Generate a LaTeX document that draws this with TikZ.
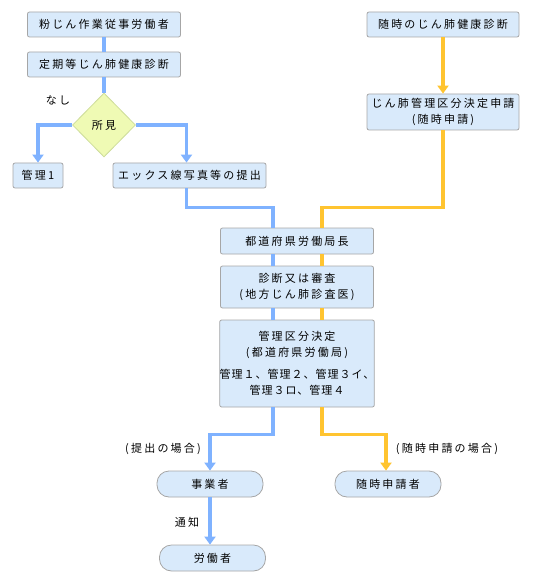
\documentclass[tikz,border=0pt]{standalone}
\usepackage{fontspec}
\newfontfamily\jp{Noto Sans CJK JP}[LetterSpace=20]
\newfontfamily\jpn{Noto Sans CJK JP}[LetterSpace=9]
\usetikzlibrary{shapes.geometric,arrows.meta,calc}
\definecolor{lineblue}{HTML}{7FB2FF}
\definecolor{lineorange}{HTML}{FFC430}
\definecolor{boxfill}{HTML}{D9EAFB}
\definecolor{boxborder}{HTML}{A6A6A6}
\definecolor{diafill}{HTML}{EFFAB4}
\definecolor{diaborder}{HTML}{CDDC9A}
\tikzset{
  box/.style={draw=boxborder, fill=boxfill, line width=0.8pt, rounded corners=2pt, align=center, inner sep=0pt, font=\jp\fontsize{11}{16}\selectfont},
  pill/.style={box, rounded corners=12pt},
  dia/.style={diamond, draw=diaborder, fill=diafill, line width=0.8pt, inner sep=0pt, minimum width=63pt, minimum height=64pt, font=\jp\fontsize{11}{14}\selectfont},
  lbl/.style={inner sep=0pt, font=\jp\fontsize{11}{14}\selectfont},
  bl/.style={draw=lineblue, line width=3.5pt},
  ol/.style={draw=lineorange, line width=3.5pt},
  bla/.style={bl, -{Triangle[width=11pt,length=8pt]}},
  ola/.style={ol, -{Triangle[width=11pt,length=8pt]}},
}
\begin{document}
\begin{tikzpicture}[x=1pt,y=-1pt]
\useasboundingbox (0,0) rectangle (541,588);
% nodes
\node[box, minimum width=153pt, minimum height=25pt] (n1) at (104,24.5) {粉じん作業従事労働者};
\node[box, minimum width=153pt, minimum height=25pt] (n2) at (104,64.5) {定期等じん肺健康診断};
\node[dia] (d) at (104,125) {所見};
\node[box, minimum width=50pt, minimum height=25pt] (n3) at (38,175.5) {管理1};
\node[box, minimum width=153pt, minimum height=25pt] (n4) at (189.5,175.5) {エックス線写真等の提出};
\node[box, minimum width=152pt, minimum height=25pt] (r1) at (443,24.5) {随時のじん肺健康診断};
\node[box, minimum width=152pt, minimum height=36pt] (r2) at (443,112) {じん肺管理区分決定申請\\(随時申請)};
\node[box, minimum width=153pt, minimum height=26pt] (m1) at (297,241) {都道府県労働局長};
\node[box, minimum width=153pt, minimum height=42pt] (m2) at (297,287) {診断又は審査\\(地方じん肺診査医)};
\node[box, minimum width=153pt, minimum height=87pt] (m3) at (297,363.5) {管理区分決定\\(都道府県労働局)\\[6pt]{\jpn 管理１、管理２、管理３イ、}\\{\jpn 管理３ロ、管理４}};
\node[pill, minimum width=106pt, minimum height=26pt] (e1) at (210,484) {事業者};
\node[pill, minimum width=106pt, minimum height=26pt] (e2) at (388,484) {随時申請者};
\node[pill, minimum width=106pt, minimum height=26pt] (e3) at (212.5,558) {労働者};
% labels
\node[lbl] (l1) at (58,100) {なし};
\node[lbl] (l2) at (187,522) {通知};
\node[lbl] (l3) at (163,449) {(提出の場合)};
\node[lbl] (l4) at (447,449) {(随時申請の場合)};
% connectors
\draw[bl] (n1) -- (n2);
\draw[bl] (n2) -- (d);
\draw[bla] (d.west) -| (n3.north);
\draw[bla] (d.east) -| ($(n4.north)+(-3,0)$);
\draw[bl] ($(n4.south)+(-3,0)$) -- ++(0,19) -| ($(m1.north)+(-24,0)$);
\draw[ola] (r1) -- (r2);
\draw[ol] (r2.south) -- ++(0,77) -| ($(m1.north)+(25,0)$);
\draw[bl] ($(m1.south)+(-24,0)$) -- ($(m2.north)+(-24,0)$);
\draw[ol] ($(m1.south)+(25,0)$) -- ($(m2.north)+(25,0)$);
\draw[bl] ($(m2.south)+(-24,0)$) -- ($(m3.north)+(-24,0)$);
\draw[ol] ($(m2.south)+(25,0)$) -- ($(m3.north)+(25,0)$);
\draw[bla] ($(m3.south)+(-24,0)$) -- ++(0,27) -| (e1.north);
\draw[ola] ($(m3.south)+(25,0)$) -- ++(0,27) -| ($(e2.north)+(-2,0)$);
\draw[bla] (e1.south) -- (e1.south |- e3.north);
\end{tikzpicture}
\end{document}
